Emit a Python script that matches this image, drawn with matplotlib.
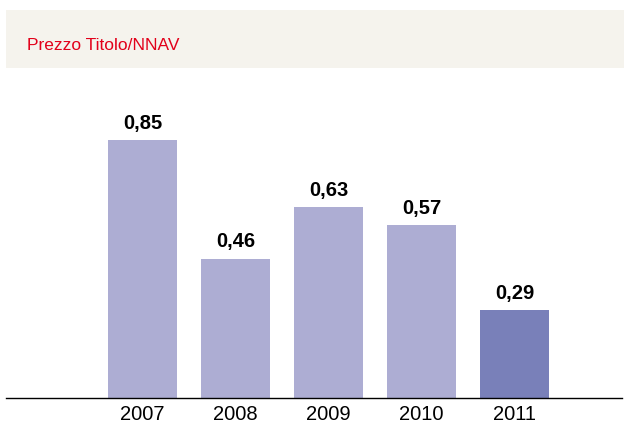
import matplotlib
matplotlib.use('Agg')
import matplotlib.pyplot as plt
from matplotlib.patches import Rectangle

# dati
anni   = ["2007", "2008", "2009", "2010", "2011"]
valori = [0.85, 0.46, 0.63, 0.57, 0.29]
etichette = ["0,85", "0,46", "0,63", "0,57", "0,29"]

COL_BAR    = "#adadd3"
COL_LAST   = "#7980b9"
COL_TITLE  = "#e2001a"
COL_HEADER = "#f5f3ed"
FONT = ['Liberation Sans', 'DejaVu Sans']

W, H = 624, 426
fig = plt.figure(figsize=(W / 100, H / 100), dpi=100)

# fascia del titolo
fig.patches.append(Rectangle((6 / W, 1 - 68 / H), 1 - 6 / W, 58 / H,
                             transform=fig.transFigure, facecolor=COL_HEADER,
                             edgecolor='none', zorder=0))
fig.text(27 / W, 1 - 45 / H, "Prezzo Titolo/NNAV", color=COL_TITLE,
         fontsize=12.5, family=FONT, va='center', ha='left')

# area del grafico: baseline a y=398 px, 1.0 a y=95 px
ax = fig.add_axes([6 / W, 1 - 398 / H, (622 - 6) / W, (398 - 95) / H])
pos = list(range(len(anni)))
colori = [COL_BAR] * (len(anni) - 1) + [COL_LAST]
ax.bar(pos, valori, width=69 / 93, color=colori, zorder=2)

for x, v, t in zip(pos, valori, etichette):
    ax.text(x, v + 0.025, t, ha='center', va='bottom', fontsize=14.5,
            fontweight='bold', family=FONT)

ax.set_xlim((6 - 142.5) / 93, (622 - 142.5) / 93)
ax.set_ylim(0, 1.0)
ax.set_xticks(pos)
ax.set_xticklabels(anni, family=FONT, fontsize=14.5)
ax.tick_params(axis='x', length=0, pad=5)
ax.set_yticks([])
for s in ['top', 'right', 'left']:
    ax.spines[s].set_visible(False)
ax.spines['bottom'].set_linewidth(1.0)
ax.patch.set_alpha(0)

fig.savefig("out.png", dpi=100)
